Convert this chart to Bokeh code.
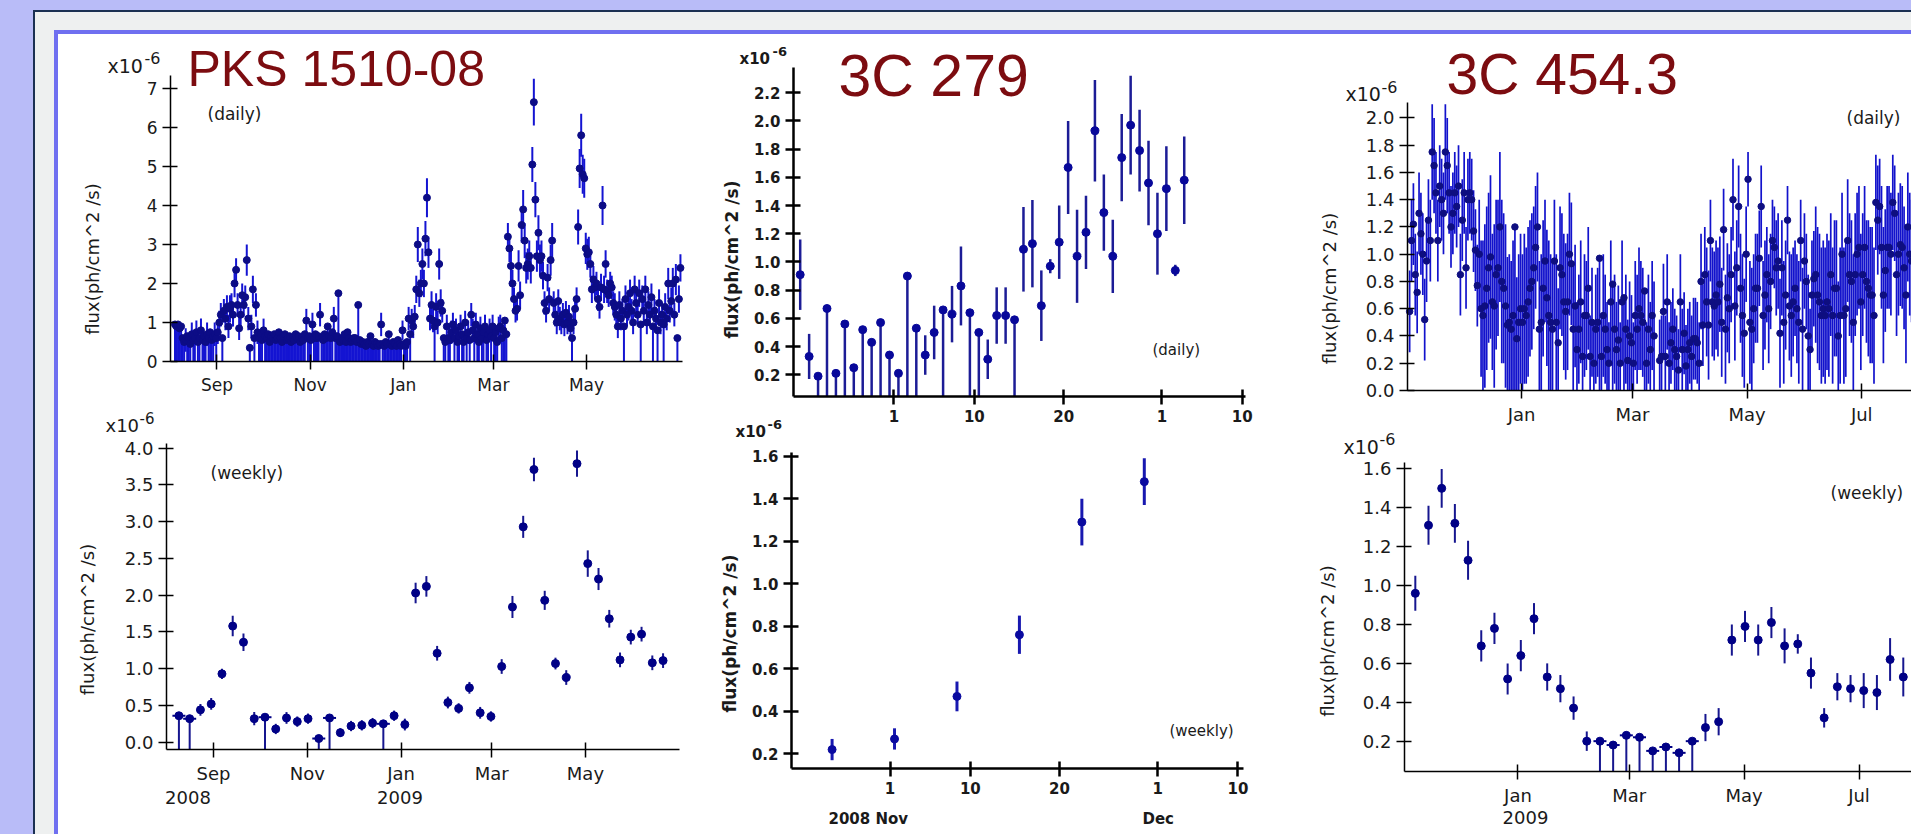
import math
import numpy as np
import pandas as pd
from bokeh.plotting import figure
from bokeh.layouts import row, column
from bokeh.models import (Range1d, FixedTicker, NumeralTickFormatter, Label, Spacer)
from bokeh.embed import file_html
from bokeh.resources import INLINE

# ======================= DATA =======================
# flux in units of 1e-6 ph/cm^2/s ; err = 0 means an upper-limit stem (drawn from axis floor to value)

# ---- PKS 1510-08 daily (one value per day from 2008-08-04) ----
pks_daily_start = "2008-08-04"
pks_daily_flux = [
    .95, .9, .95, .85, .9, .6, .5, .55, .65, .6,
    .45, .7, .55, .6, .75, .5, .6, .8, .55, .65,
    .5, .7, .6, .75, .55, .65, .7, .6,
    .75, 1.0, 1.2, .6, 1.3, 1.1, 1.4, .9, 1.35, 1.45,
    1.2, 2.0, 2.35, 1.45, .85, 1.2, 1.7, 1.45, 1.65, 2.6,
    1.1, .35, .9, 1.85, .6, 1.45, .75,
    .6, .7, .55, .8, .65, .6, .7, .5, .65, .6,
    .7, .55, .6, .75, .6, .5, .65, .7, .55, .6,
    .65, .5, .6, .55, .7, .6, .65, .5, .6, .55,
    .7, 1.05, .6, .65, .55, .95, .6, .7, .6, .65,
    1.2, .6, .55, .7, .6, .9, .65, .6, .75, 1.1,
    .6, .65, 1.75, .5, .6, .55, .7, .5, .75, .6,
    .5, .55, .6, .6, .5, 1.45, .55, .45, .5, .45,
    .4, .5, .45, .65, .45, .4, .5, .45, .4, .45,
    .95, .45, .4, .5, .45, .7, .45, .4, .5, .45,
    .4, .55, .45, .4, .8, .45, .4, .5, 1.1, .7,
    1.05, .9,
    1.15, 1.85, 3.0, 1.75, 2.0, 2.5, 2.0, 3.15, 4.2, 2.8,
    1.1, 1.45, 1.05, .9, 1.4, 1.0, 2.5, 1.5,
    1.3, .6, .5, .9, .6, .55, .75, .95, .6, .8,
    .5, .65, .9, .7, .5, 1.0, .6, .75, .55, 1.2,
    .8, .6, .95, .7, .5, .85, .6, .75, .9, .55,
    .7, .8, .65, .9, .6, .75, .5, .85, .9, .6,
    .8, 1.05, .7,
    3.2, 2.9, 2.45, 2.0, 1.6, 1.3, 1.35, 2.45, 1.7, 3.5,
    3.9, 3.1, 2.4, 2.5, 2.7, 2.4, 5.05, 6.65, 4.15, 2.7,
    3.3, 2.6, 2.7, 2.2, 1.5, 1.3, 2.15, 1.6, 2.6, 3.1,
    1.5, 1.2, 1.0, 1.55, 1.1, 1.0, 1.2, .95, 1.25, 1.0,
    1.15, .85, .6, 1.0,
    1.35, 1.6, 3.45, 4.95, 5.8, 4.8, 4.7, 2.9, 2.75, 2.8,
    2.5, 1.85, 2.1, 1.9, 2.0, 1.6, 1.4, 1.9, 4.0, 1.85,
    2.5, 1.8, 1.7, 2.0, 1.9, 1.5,
    1.4, 1.2, .9, 1.45, 1.1, 1.3, .9, 1.6, 1.2, 1.4,
    1.75, 1.3, 1.0, 1.85, 1.5, 1.2, 1.75, .95, 1.6, 1.3,
    1.85, 1.0, 1.45, 1.2, 1.65, .9, 1.3, 1.1, .8, 1.5,
    1.0, 1.2, .95, 1.4, 1.1, 2.0, 1.3, 1.55, 2.0, 1.2,
    2.1, .6, 1.6, 2.4,
]
pks_daily_err = [
    0, 0, 0, 0, 0, 0, 0, .3, 0, 0,
    0, .3, 0, 0, .3, 0, 0, .3, 0, 0,
    0, .3, 0, 0, 0, 0, .3, 0,
    .3, .3, .3, 0, .3, .3, .3, .3, .35, .3,
    .3, .35, .3, .3, .3, .3, .3, .3, .3, .4,
    .3, 0, .3, .35, 0, .3, .3,
    0, 0, 0, .3, 0, 0, 0, 0, 0, 0,
    0, 0, 0, 0, 0, 0, 0, 0, 0, 0,
    0, 0, 0, 0, 0, 0, 0, 0, 0, 0,
    0, .3, 0, 0, 0, .3, 0, 0, 0, 0,
    .3, 0, 0, 0, 0, 0, 0, 0, 0, .3,
    0, 0, 0, 0, 0, 0, 0, 0, 0, 0,
    0, 0, 0, 0, 0, 0, 0, 0, 0, 0,
    0, 0, 0, 0, 0, 0, 0, 0, 0, 0,
    .3, 0, 0, 0, 0, 0, 0, 0, 0, 0,
    0, 0, 0, 0, .25, 0, 0, 0, .3, 0,
    .3, .3,
    .3, .35, .45, .35, .35, .4, .35, .45, .5, .4,
    .3, .35, .3, 0, .35, .3, .4, .35,
    .3, 0, 0, .3, 0, 0, .3, .3, 0, .3,
    0, 0, .3, 0, 0, .3, 0, .3, 0, .3,
    .3, 0, .3, 0, 0, .3, 0, 0, .3, 0,
    0, .3, 0, .3, 0, 0, 0, .3, .3, 0,
    0, 0, 0,
    .35, .35, .4, .35, .3, .3, .3, .4, .35, .45,
    .5, .45, .4, .4, .4, .4, .45, .6, .45, .4,
    .45, .4, .4, .35, .3, .3, .35, .3, .4, .45,
    .3, .3, .3, .3, .3, .3, .3, .3, .3, .3,
    .3, .3, 0, .3,
    .3, .3, .45, .5, .55, .5, .5, .4, .4, .4,
    .35, .35, .35, .3, .3, .3, .3, .35, .5, .35,
    .35, .3, .3, .3, .3, .3,
    .35, .3, .3, .35, .3, .3, 0, .35, .3, .35,
    .35, .3, .3, .35, .35, .3, .35, 0, .35, .3,
    .35, .3, .35, .3, .35, 0, .3, .3, 0, .35,
    .3, .3, 0, .35, .3, .4, .3, .35, .4, .3,
    .4, 0, .35, .35,
]

# ---- PKS 1510-08 weekly ----
pks_weekly_start = "2008-08-09 12:00"
pks_weekly_flux = [.36, .32, .44, .52, .93, 1.58, 1.36, .32, .34, .18,
                   .33, .28, .32, .05, .33, .13, .22, .23, .26, .25,
                   .36, .24, 2.03, 2.12, 1.21, .54, .46, .74, .40, .35,
                   1.03, 1.84, 2.93, 3.71, 1.93, 1.07, .88, 3.79, 2.43, 2.22,
                   1.68, 1.12, 1.43, 1.47, 1.08, 1.11]
pks_weekly_err = [0, 0, .08, .08, .07, .14, .12, .09, 0, .07,
                  .08, .07, .07, 0, 0, .06, .07, .07, .07, 0,
                  .07, .08, .14, .14, .1, .08, .07, .08, .08, .07,
                  .1, .15, .15, .16, .13, .08, .1, .18, .18, .15,
                  .12, .1, .1, .1, .1, .1]

# ---- 3C 279 daily ----
c279_daily_start = "2008-10-21"
c279_daily_flux = [.91, .33, .19, .67, .21, .56, .25, .52, .43, .57,
                   .34, .21, .90, .53, .34, .50, .66, .63, .83, .64,
                   .50, .31, .62, .62, .59, 1.09, 1.13, .69, .97, 1.14,
                   1.67, 1.04, 1.21, 1.93, 1.35, 1.04, 1.74, 1.97, 1.79, 1.56,
                   1.20, 1.52, .94, 1.58]
c279_daily_err = [.25, .16, 0, 0, 0, 0, 0, 0, 0, 0,
                  0, 0, 0, 0, .14, .19, 0, .2, .28, 0,
                  0, .14, .2, .2, 0, .3, .31, .25, .05, .26,
                  .33, .33, .26, .36, .27, .26, .31, .35, .29, .3,
                  .29, .3, .04, .31]

# ---- 3C 279 weekly ----
c279_weekly_start = "2008-10-25 12:00"
c279_weekly_flux = [.22, .27, .47, .76, 1.29, 1.48]
c279_weekly_err = [.05, .05, .07, .09, .11, .11]

# ---- 3C 454.3 daily (one value per day from 2008-11-02) ----
c454_daily_start = "2008-11-02"
c454_daily_flux = [
    .58, 1.1, 1.22, .85, .72, 1.3, 1.15, 1.0, .52, .95,
    1.25, 1.1, 1.75, 1.65, 1.45, 1.1, 1.5, 1.4, 1.3, 1.75,
    1.65, 1.45, 1.2, 1.3, 1.45, 1.35, 1.5, .85, 1.25, 1.45,
    .9, 1.4, 1.45, 1.4, 1.17, 1.03, .77, 1.0, .6,
    .55, .62, .75, .9, .98, .65, .62, .85, .9, 1.2,
    .8, .75, .62, .48, .5, .45, .55, 1.2, .38, .5,
    .6,
    .5, .6, .55, .65, .75, .8, .9, 1.05, 1.2, .45,
    .5, .75, .95, .68, .55, .5, .45, .95, .5, .35,
    .9, .85, .65, .58, .65, 1.0, .93, .45,
    .62, .3, .45, .65, .25, .55, .55, .75, .25, .5,
    .2, .45, .5, .97, .25, .55, .45, .3, .2, .65,
    .78, .45, .3, .37, .2, .65, .68, .45, .22, .4,
    .35, .2, .55, .45, .6, .55, .5, .73, .2, .45,
    .3, .55, .4, None, None,
    .22, .25, .58, .25, .65, .2, .35, .45, .3, .25,
    .15, .65, .3, .42, .18, .3, .35, .25, .38, .38,
    .35, .2, .8, .48, .85,
    .65, .48, 1.1, .65, .62, .7, .65, .78, .5, 1.18,
    .45, .68, .6, .85, 1.4, .62, .9, 1.35, .75, .55,
    .42, 1.0, 1.55, .5, .45, .6, .75, .75, .97, 1.35,
    .55, .7, .85, .6, .8, 1.1, 1.05, .9, .95, .42,
    .9, .5, .7, 1.25, .62, .55, .65, .75, .6, .5,
    1.1, .45, .95, .8, .4, .3, .7, .82,
    .85, .7, .65, .55, .6, .55, .65, .6, .85, .55,
    .75, .75, .4, .55, 1.0, .55, .6, 1.1, .85, .8,
    .5, .85, 1.0, 1.05, .65, .85, 1.05, .8, .75, .7,
    .7, .55, 1.38, 1.25, 1.35, 1.05, .7, .88, 1.05, 1.05,
    1.0, 1.38, 1.3, .85, 1.0, 1.07, 1.05, .9, .7, 1.2,
    1.0, .95,
]
c454_daily_err = [
    .3, .3, .3, .3, .3, .3, .3, .3, .3, .3,
    .3, .3, .35, .35, .3, .3, .3, .3, .3, .35,
    .35, .3, .3, .3, .3, .3, .3, .3, .3, .3,
    .3, .3, .3, .3, .3, .3, .3, .4, .5,
    .55, .6, .6, .55, .6, .5, .6, .55, .5, .55,
    .6, .55, .6, .5, .5, .5, .55, 0, .45, .5,
    .55,
    .5, .55, .5, .55, .5, .5, .45, .45, .4, .5,
    .5, .5, .45, .5, .55, .5, .5, .45, .5, .4,
    .45, .45, .5, .5, .5, .45, .45, .5,
    .45, .35, .4, .45, .3, .45, .4, .45, .3, .4,
    .3, .4, .4, 0, .3, .45, .4, .35, .3, .45,
    0, .4, .35, .4, .3, .45, 0, .4, .3, .4,
    .35, .3, .4, .4, .45, .4, .4, 0, .3, .4,
    .35, .4, .4, .3, .3,
    .3, .3, .35, .3, .35, .3, .3, .3, .3, .3,
    .3, .35, .3, .3, .3, .3, .3, .3, .3, .3,
    .3, .3, .35, .3, .35,
    .4, .4, .3, .4, .4, .4, .4, .35, .4, .3,
    .4, .4, .4, .35, .3, .4, .35, .3, .4, .45,
    .4, .35, .2, .45, .45, .4, .4, .4, .35, .3,
    .4, .4, .35, .4, .35, .3, .3, .35, .35, .4,
    .35, .45, .4, .25, .4, .45, .4, .35, .4, .45,
    .3, .45, .35, .35, .45, .3, .4, .35,
    .5, .5, .5, .5, .5, .5, .5, .5, .45, .5,
    .5, .5, .4, .5, .45, .5, .5, .45, .45, .45,
    .5, .45, .45, .45, .5, .45, .45, .45, .5, .5,
    .5, .5, .35, .4, .35, .45, .5, .45, .45, .45,
    .45, .35, .35, .45, .45, .45, .45, .45, .5, .4,
    .45, .45,
]

# ---- 3C 454.3 weekly ----
c454_weekly_start = "2008-11-07 12:00"
c454_weekly_flux = [.96, 1.31, 1.50, 1.32, 1.13, .69, .78, .52, .64, .83,
                    .53, .47, .37, .20, .20, .18, .23, .22, .15, .17,
                    .14, .20, .27, .30, .72, .79, .72, .81, .69, .70,
                    .55, .32, .48, .47, .46, .45, .62, .53]
c454_weekly_err = [.09, .1, .1, .1, .1, .08, .08, .08, .08, .08,
                   .07, .07, .06, .05, 0, 0, 0, 0, 0, 0,
                   0, 0, .07, .07, .08, .08, .08, .08, .09, .05,
                   .08, .05, .07, .07, .09, .09, .11, .1]

# ---- axis ticks ----
pks_ref = "2008-09-01"
pks_tick_dates = ["2008-09-01", "2008-11-01", "2009-01-01", "2009-03-01", "2009-05-01"]
pks_tick_labels = ["Sep", "Nov", "Jan", "Mar", "May"]
c279_ref = "2008-11-01"
c279_tick_dates = ["2008-11-01", "2008-11-10", "2008-11-20", "2008-12-01", "2008-12-10"]
c279_tick_labels = ["1", "10", "20", "1", "10"]
c454_ref = "2009-01-01"
c454_tick_dates = ["2009-01-01", "2009-03-01", "2009-05-01", "2009-07-01"]
c454_tick_labels = ["Jan", "Mar", "May", "Jul"]

pks_daily_yticks = [0, 1, 2, 3, 4, 5, 6, 7]
pks_weekly_yticks = [0.0, 0.5, 1.0, 1.5, 2.0, 2.5, 3.0, 3.5, 4.0]
c279_daily_yticks = [0.2, 0.4, 0.6, 0.8, 1.0, 1.2, 1.4, 1.6, 1.8, 2.0, 2.2]
c279_weekly_yticks = [0.2, 0.4, 0.6, 0.8, 1.0, 1.2, 1.4, 1.6]
c454_daily_yticks = [0.0, 0.2, 0.4, 0.6, 0.8, 1.0, 1.2, 1.4, 1.6, 1.8, 2.0]
c454_weekly_yticks = [0.2, 0.4, 0.6, 0.8, 1.0, 1.2, 1.4, 1.6]

# ======================= STYLE =======================
LAV = "#b9bcf8"
DARK = "#1b3052"
GRAY = "#eef0f0"
BLUE = "#6f6ff0"
TITLE_RED = "#7c0c10"
TXT = "#1a1a1a"
FONT = "DejaVu Sans"


def days_since(ref, dates):
    return ((pd.to_datetime(dates) - pd.Timestamp(ref)) / pd.Timedelta(days=1)).to_numpy(dtype=float)


def series_x(ref, start, n, freq):
    s = pd.Timestamp(start)
    if freq == "D":
        s = s + pd.Timedelta(hours=12)
    return days_since(ref, pd.date_range(s, periods=n, freq=freq))


def make_fig(box, frame, xr, yr):
    """box = figure box on the page, frame = where the axes lie on the page.
    The plot frame covers the whole figure; the axes are pinned with fixed_location."""
    bx, by, bw, bh = box
    L, T, R, B = frame
    xpp = (xr[1] - xr[0]) / (R - L)
    ypp = (yr[1] - yr[0]) / (B - T)
    fx0 = xr[0] - (L - bx) * xpp
    fx1 = xr[1] + (bx + bw - R) * xpp
    fy0 = yr[0] - (by + bh - B) * ypp
    fy1 = yr[1] + (T - by) * ypp
    p = figure(width=bw, height=bh, x_range=Range1d(fx0, fx1), y_range=Range1d(fy0, fy1),
               output_backend="svg", toolbar_location=None, min_border=0,
               background_fill_color="white", border_fill_color="white",
               outline_line_color=None)
    p.grid.visible = False
    p.xaxis.fixed_location = yr[0]
    p.xaxis.bounds = (xr[0], xr[1])
    p.yaxis.fixed_location = xr[0]
    p.yaxis.bounds = (yr[0], yr[1])

    def conv(px, py):
        return (fx0 + (px - bx) * xpp, fy1 - (py - by) * ypp)
    return p, conv


def style_axes(p, ref, tick_dates, tick_labels, yticks, yfmt, fsize, bold, lw):
    xt = [int(round(v)) for v in days_since(ref, tick_dates)]
    xa, ya = p.xaxis[0], p.yaxis[0]
    xa.ticker = FixedTicker(ticks=xt)
    xa.major_label_overrides = {t: s for t, s in zip(xt, tick_labels)}
    ya.ticker = FixedTicker(ticks=yticks)
    ya.formatter = NumeralTickFormatter(format=yfmt)
    for a in (xa, ya):
        a.minor_tick_line_color = None
        a.axis_line_color = "black"
        a.major_tick_line_color = "black"
        a.axis_line_width = lw
        a.major_tick_line_width = lw
        a.major_tick_in = 7
        a.major_tick_out = 8
        a.major_label_standoff = 5
        a.major_label_text_font = FONT
        a.major_label_text_font_size = f"{fsize}px"
        a.major_label_text_font_style = "bold" if bold else "normal"
        a.major_label_text_color = TXT


def draw_series(p, x, flux, err, yfloor, bar_color, bar_w, dot_color, dot_size, cap=False):
    n = min(len(x), len(flux), len(err))
    x = np.asarray(x[:n], dtype=float)
    f = np.array(flux[:n], dtype=float)
    e = np.array(err[:n], dtype=float)
    ul = e == 0
    lo = np.where(ul, yfloor, np.maximum(f - e, yfloor))
    hi = np.where(ul, f, f + e)
    p.segment(x0=x, y0=lo, x1=x, y1=hi, line_color=bar_color, line_width=bar_w)
    p.scatter(x=x, y=f, size=dot_size, marker="circle", fill_color=dot_color, line_color=dot_color)
    if cap and ul.any():
        p.scatter(x=x[ul], y=f[ul], size=dot_size + 5, marker="dash", line_color=dot_color, line_width=2)


def add_text(p, conv, text, px, py, size, align="left", baseline="middle",
             font=FONT, color=TXT, angle=0.0, style="normal"):
    x, y = conv(px, py)
    p.add_layout(Label(x=x, y=y, text=text, text_font=font, text_font_size=f"{size}px",
                       text_color=color, text_align=align, text_baseline=baseline,
                       angle=angle, text_font_style=style))


def ylabel(p, conv, cx, cy, size, style="normal"):
    add_text(p, conv, "flux(ph/cm^2 /s)", cx, cy, size, align="center",
             angle=math.pi / 2, style=style)


def x10(p, conv, px, py, size, sx, sy, ssize, style="normal"):
    add_text(p, conv, "x10", px, py, size, style=style)
    add_text(p, conv, "-6", sx, sy, ssize, style=style)


# ---------------- PKS 1510-08 daily ----------------
p1, c1 = make_fig((58, 34, 642, 366), (170, 75, 682, 361), (-30.45, 304.85), (0.0, 7.333))
style_axes(p1, pks_ref, pks_tick_dates, pks_tick_labels, pks_daily_yticks, "0", 17, False, 1.5)
draw_series(p1, series_x(pks_ref, pks_daily_start, len(pks_daily_flux), "D"),
            pks_daily_flux, pks_daily_err, 0.0, "#1414d2", 2.0, "#0c0c86", 7)
add_text(p1, c1, "PKS 1510-08", 187, 68, 50, font="Liberation Sans", color=TITLE_RED)
x10(p1, c1, 107, 65, 19, 144, 57, 16)
add_text(p1, c1, "(daily)", 207, 113, 17)
ylabel(p1, c1, 91.5, 258.5, 18)

# ---------------- PKS 1510-08 weekly ----------------
p2, c2 = make_fig((58, 400, 642, 434), (166, 443, 679, 749), (-30.58, 303.19), (-0.0993, 4.064))
style_axes(p2, pks_ref, pks_tick_dates, pks_tick_labels, pks_weekly_yticks, "0.0", 18, False, 1.5)
draw_series(p2, series_x(pks_ref, pks_weekly_start, len(pks_weekly_flux), "7D"),
            pks_weekly_flux, pks_weekly_err, -0.0993, "#16168f", 2, "#000086", 8, cap=True)
x10(p2, c2, 105, 425, 18, 139, 417, 15)
add_text(p2, c2, "(weekly)", 210, 472, 17)
ylabel(p2, c2, 87, 619, 18)
add_text(p2, c2, "2008", 187.5, 797, 18, align="center")
add_text(p2, c2, "2009", 399.5, 797, 18, align="center")

# ---------------- 3C 279 daily ----------------
p3, c3 = make_fig((700, 34, 590, 412), (793, 67, 1245, 396), (-11.25, 39.36), (0.046, 2.379))
style_axes(p3, c279_ref, c279_tick_dates, c279_tick_labels, c279_daily_yticks, "0.0", 15, True, 2.5)
draw_series(p3, series_x(c279_ref, c279_daily_start, len(c279_daily_flux), "D"),
            c279_daily_flux, c279_daily_err, 0.046, "#1c1c96", 2.5, "#08089a", 8)
add_text(p3, c3, "3C 279", 838, 75.5, 59, font="Liberation Sans", color=TITLE_RED)
x10(p3, c3, 739, 58.5, 15, 772, 51, 13, style="bold")
add_text(p3, c3, "(daily)", 1152, 349, 15)
ylabel(p3, c3, 731.4, 259, 17, style="bold")
x10(p3, c3, 735, 431, 15, 767, 424, 13, style="bold")   # multiplier of the weekly panel below

# ---------------- 3C 279 weekly ----------------
p4, c4 = make_fig((700, 446, 590, 388), (791, 452, 1243, 768), (-11.05, 39.62), (0.131, 1.617))
style_axes(p4, c279_ref, c279_tick_dates, c279_tick_labels, c279_weekly_yticks, "0.0", 15, True, 2.5)
draw_series(p4, series_x(c279_ref, c279_weekly_start, len(c279_weekly_flux), "7D"),
            c279_weekly_flux, c279_weekly_err, 0.131, "#1818b0", 3, "#0a0aa0", 8)
add_text(p4, c4, "(weekly)", 1169, 730, 15)
ylabel(p4, c4, 729.4, 633, 17, style="bold")
add_text(p4, c4, "2008 Nov", 867.8, 818, 15, align="center", style="bold")
add_text(p4, c4, "Dec", 1157.7, 818, 15, align="center", style="bold")

# ---------------- 3C 454.3 daily ----------------
p5, c5 = make_fig((1290, 34, 621, 396), (1407, 102, 1911, 390), (-60.64, 207.45), (0.0, 2.113))
style_axes(p5, c454_ref, c454_tick_dates, c454_tick_labels, c454_daily_yticks, "0.0", 18, False, 1.5)
draw_series(p5, series_x(c454_ref, c454_daily_start, len(c454_daily_flux), "D"),
            c454_daily_flux, c454_daily_err, 0.0, "#1212cc", 1.7, "#0e0e80", 6.5)
add_text(p5, c5, "3C 454.3", 1446, 73.5, 57, font="Liberation Sans", color=TITLE_RED)
x10(p5, c5, 1345, 93.5, 19, 1381, 86, 16)
add_text(p5, c5, "(daily)", 1846, 117, 17)
ylabel(p5, c5, 1329, 288, 18)

# ---------------- 3C 454.3 weekly ----------------
p6, c6 = make_fig((1290, 430, 621, 404), (1404, 462, 1911, 771), (-60.24, 208.86), (0.044, 1.633))
style_axes(p6, c454_ref, c454_tick_dates, c454_tick_labels, c454_weekly_yticks, "0.0", 18, False, 1.5)
draw_series(p6, series_x(c454_ref, c454_weekly_start, len(c454_weekly_flux), "7D"),
            c454_weekly_flux, c454_weekly_err, 0.044, "#16168f", 2, "#000086", 8, cap=True)
x10(p6, c6, 1343, 446, 19, 1379, 438, 16)
add_text(p6, c6, "(weekly)", 1830, 492, 17)
ylabel(p6, c6, 1327, 640.5, 18)
add_text(p6, c6, "2009", 1525, 817, 18, align="center")

# ======================= LAYOUT =======================
content = row(column(p1, p2, width=642, height=800),
              column(p3, p4, width=590, height=800),
              column(p5, p6, width=621, height=800),
              width=1853, height=800, styles={"background-color": "white"})


def framed(child, w, h, pad_left, pad_top, color):
    return column(Spacer(width=w, height=pad_top),
                  row(Spacer(width=pad_left, height=h - pad_top), child, width=w, height=h - pad_top),
                  width=w, height=h, styles={"background-color": color})


lvl3 = framed(content, 1857, 804, 4, 4, BLUE)
lvl2 = framed(lvl3, 1876, 822, 19, 18, GRAY)
lvl1 = framed(lvl2, 1878, 824, 2, 2, DARK)
root = framed(lvl1, 1911, 834, 33, 10, LAV)

open("out.html", "w").write(file_html(root, INLINE, title="Fermi light curves"))
